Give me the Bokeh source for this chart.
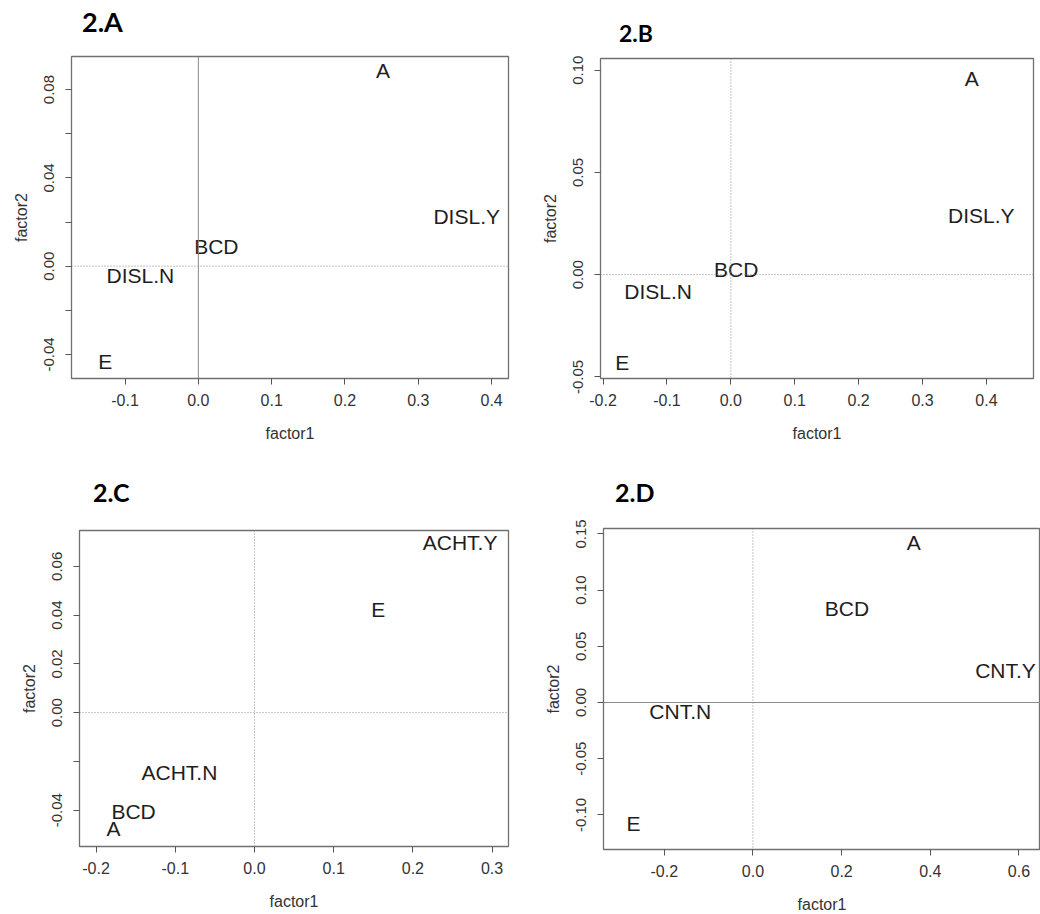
from bokeh.plotting import figure
from bokeh.models import Range1d, FixedTicker, Span, ColumnDataSource, Div
from bokeh.layouts import column, row
from bokeh.embed import file_html
from bokeh.resources import INLINE
from bokeh.core.properties import value

# ---------------- data ----------------
a_labels = ["A", "DISL.Y", "BCD", "DISL.N", "E"]
a_f1 = [0.252, 0.366, 0.0245, -0.079, -0.127]
a_f2 = [0.0879, 0.0215, 0.0079, -0.0053, -0.0442]
a_xticks = [-0.1, 0.0, 0.1, 0.2, 0.3, 0.4]
a_yticks = [-0.04, -0.02, 0.0, 0.02, 0.04, 0.06, 0.08]
a_ytick_text = ["-0.04", "", "0.00", "", "0.04", "", "0.08"]

b_labels = ["A", "DISL.Y", "BCD", "DISL.N", "E"]
b_f1 = [0.377, 0.392, 0.0085, -0.1137, -0.170]
b_f2 = [0.0948, 0.0281, 0.0016, -0.0092, -0.0441]
b_xticks = [-0.2, -0.1, 0.0, 0.1, 0.2, 0.3, 0.4]
b_yticks = [-0.05, 0.0, 0.05, 0.10]
b_ytick_text = ["-0.05", "0.00", "0.05", "0.10"]

c_labels = ["ACHT.Y", "E", "ACHT.N", "BCD", "A"]
c_f1 = [0.2596, 0.1564, -0.0948, -0.1526, -0.1779]
c_f2 = [0.0689, 0.0415, -0.0255, -0.0412, -0.0482]
c_xticks = [-0.2, -0.1, 0.0, 0.1, 0.2, 0.3]
c_yticks = [-0.04, -0.02, 0.0, 0.02, 0.04, 0.06]
c_ytick_text = ["-0.04", "", "0.00", "0.02", "0.04", "0.06"]

d_labels = ["A", "BCD", "CNT.Y", "CNT.N", "E"]
d_f1 = [0.3625, 0.2122, 0.5695, -0.164, -0.2695]
d_f2 = [0.1408, 0.0815, 0.0263, -0.0098, -0.1092]
d_xticks = [-0.2, 0.0, 0.2, 0.4, 0.6]
d_yticks = [-0.10, -0.05, 0.0, 0.05, 0.10, 0.15]
d_ytick_text = ["-0.10", "-0.05", "0.00", "0.05", "0.10", "0.15"]

FONT = "Liberation Sans"
TITLE_FONT = "Lato"


def title_div(text, size, pad_top, pad_left, height):
    html = (f'<div style="margin:0; padding:{pad_top}px 0 0 {pad_left}px; '
            f'font-family:{TITLE_FONT}; font-weight:bold; font-size:{size}px; '
            f'line-height:{size}px; color:black; white-space:nowrap;">'
            f'{text}</div>')
    return Div(text=html, width=520, height=height, margin=(0, 0, 0, 0))


def panel(labels, f1, f2, xr, yr, xticks, yticks, ytext,
          vdash, hdash, borders, frame):
    mbl, mbr, mbt, mbb = borders
    fw, fh = frame
    p = figure(output_backend="svg", toolbar_location=None,
               frame_width=fw, frame_height=fh,
               min_border_left=mbl, min_border_right=mbr,
               min_border_top=mbt, min_border_bottom=mbb,
               x_range=Range1d(*xr), y_range=Range1d(*yr),
               background_fill_color="white", border_fill_color="white")
    p.grid.visible = False
    p.outline_line_color = "#707070"
    p.outline_line_width = 1.3

    src = ColumnDataSource(dict(f1=f1, f2=f2, lab=labels))
    p.text(x="f1", y="f2", text="lab", source=src,
           text_font=value(FONT), text_font_size="21px",
           text_align="center", text_baseline="middle",
           y_offset=-2, text_color="#1e1e1e")

    p.add_layout(Span(location=0, dimension="height", line_color="#8a8a8a",
                      line_width=1, line_dash=vdash))
    p.add_layout(Span(location=0, dimension="width", line_color="#8a8a8a",
                      line_width=1, line_dash=hdash))

    for ax in (p.xaxis[0], p.yaxis[0]):
        ax.axis_line_color = None
        ax.major_tick_line_color = "#555555"
        ax.major_tick_out = 6
        ax.major_tick_in = 0
        ax.minor_tick_line_color = None
        ax.major_label_text_font = FONT
        ax.major_label_text_color = "#333333"
        ax.axis_label_text_font = FONT
        ax.axis_label_text_font_size = "16px"
        ax.axis_label_text_font_style = "normal"
        ax.axis_label_text_color = "#333333"

    p.xaxis.ticker = FixedTicker(ticks=xticks)
    p.xaxis.major_label_overrides = {t: f"{t:.1f}" for t in xticks}
    p.xaxis.major_label_text_font_size = "16px"
    p.xaxis.major_label_standoff = 9
    p.xaxis.axis_label = "factor1"
    p.xaxis.axis_label_standoff = 16

    p.yaxis.ticker = FixedTicker(ticks=yticks)
    p.yaxis.major_label_overrides = {t: s for t, s in zip(yticks, ytext)}
    p.yaxis.major_label_orientation = "vertical"
    p.yaxis.major_label_text_font_size = "15px"
    p.yaxis.major_label_standoff = 11
    p.yaxis.axis_label = "factor2"
    p.yaxis.axis_label_standoff = 12
    return p


pA = panel(a_labels, a_f1, a_f2, (-0.173, 0.423), (-0.0509, 0.095),
           a_xticks, a_yticks, a_ytick_text, "solid", "1 2",
           (71, 12, 6, 72), (437, 322))
pB = panel(b_labels, b_f1, b_f2, (-0.204, 0.4737), (-0.0508, 0.1057),
           b_xticks, b_yticks, b_ytick_text, "1 2", "1 2",
           (80, 7, 8, 72), (433, 320))
pC = panel(c_labels, c_f1, c_f2, (-0.2209, 0.3207), (-0.0549, 0.0747),
           c_xticks, c_yticks, c_ytick_text, "1 2", "1 2",
           (79, 12, 20, 68), (429, 316))
pD = panel(d_labels, d_f1, d_f2, (-0.337, 0.6485), (-0.1308, 0.1548),
           d_xticks, d_yticks, d_ytick_text, "1 2", "solid",
           (83, 0, 18, 65), (437, 321))

tA = title_div("2.A", 27, 8, 82, 50)
tB = title_div("2.B", 23, 22, 99, 50)
tC = title_div("2.C", 25, 30, 93, 60)
tD = title_div("2.D", 25, 30, 95, 60)

layout = column(row(column(tA, pA), column(tB, pB)),
                row(column(tC, pC), column(tD, pD)))
open("out.html", "w").write(file_html(layout, INLINE))
